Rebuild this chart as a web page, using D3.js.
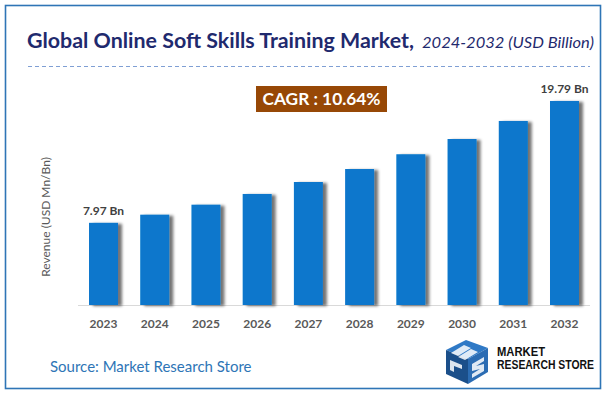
<!DOCTYPE html>
<html><head><meta charset="utf-8">
<script src="https://cdn.jsdelivr.net/npm/d3@7"></script>
<style>html,body{margin:0;padding:0;background:#fff}svg{display:block}</style>
</head><body>
<script>
const years = ["2023","2024","2025","2026","2027","2028","2029","2030","2031","2032"];
const values = [7.97, 8.76, 9.73, 10.77, 11.93, 13.19, 14.62, 16.10, 17.85, 19.79];
const valueLabels = {"2023":"7.97 Bn","2032":"19.79 Bn"};
const titleMain = "Global Online Soft Skills Training Market,";
const titleSub = "2024-2032 (USD Billion)";
const cagrText = "CAGR : 10.64%";
const yAxisTitle = "Revenue (USD Mn/Bn)";
const sourceText = "Source: Market Research Store";

const W = 613, H = 393;
const svg = d3.select("body").append("svg").attr("width", W).attr("height", H);
const defs = svg.append("defs");
const f = defs.append("filter").attr("id","sh").attr("x","-20%").attr("y","-10%").attr("width","160%").attr("height","120%");
f.append("feGaussianBlur").attr("in","SourceAlpha").attr("stdDeviation",1.8).attr("result","b");
f.append("feOffset").attr("in","b").attr("dx",3.5).attr("dy",1).attr("result","o");
f.append("feComponentTransfer").attr("in","o").attr("result","o2").append("feFuncA").attr("type","linear").attr("slope",0.55);
const m = f.append("feMerge"); m.append("feMergeNode").attr("in","o2"); m.append("feMergeNode").attr("in","SourceGraphic");

svg.append("rect").attr("x",5.5).attr("y",5.5).attr("width",595).attr("height",383)
  .attr("fill","#fff").attr("stroke","#2e75b6").attr("stroke-width",1.6);

const font = "Lato, 'Open Sans', sans-serif";
// Title
const t1 = svg.append("text").attr("x",27).attr("y",48).attr("font-family",font).attr("font-weight","bold")
  .attr("font-size",20.5).attr("fill","#1f2a6e").text(titleMain)
  .attr("textLength",387).attr("lengthAdjust","spacingAndGlyphs");
svg.append("text").attr("x",422).attr("y",48).attr("font-family",font).attr("font-style","italic")
  .attr("font-size",15.5).attr("fill","#1f2a6e").text(titleSub)
  .attr("textLength",172).attr("lengthAdjust","spacingAndGlyphs");
svg.append("line").attr("x1",28).attr("x2",590).attr("y1",66.5).attr("y2",66.5)
  .attr("stroke","#7f9fd4").attr("stroke-width",1).attr("stroke-dasharray","4,3");

// CAGR
svg.append("rect").attr("x",256).attr("y",86).attr("width",131).attr("height",26).attr("fill","#974806");
svg.append("text").attr("x",321.5).attr("y",105).attr("text-anchor","middle").attr("font-family",font)
  .attr("font-weight","bold").attr("font-size",17).attr("fill","#fff").text(cagrText)
  .attr("textLength",118).attr("lengthAdjust","spacingAndGlyphs");

const x = d3.scaleBand().domain(years).range([77.9, 590.1]).paddingInner(0.434).paddingOuter(0.217);
const y = d3.scaleLinear().domain([0, 20]).range([305, 98.8]);

svg.append("line").attr("x1",78).attr("x2",590).attr("y1",305.5).attr("y2",305.5).attr("stroke","#d9d9d9").attr("stroke-width",1.2);

svg.append("g").selectAll("rect").data(years).join("rect")
  .attr("x", d => x(d)).attr("width", x.bandwidth())
  .attr("y", (d,i) => y(values[i])).attr("height", (d,i) => y(0) - y(values[i]))
  .attr("fill","#0877cc").attr("filter","url(#sh)");

svg.append("g").selectAll("text").data(years.filter(d => valueLabels[d])).join("text")
  .attr("x", d => x(d) + x.bandwidth()/2).attr("y", d => y(values[years.indexOf(d)]) - 8)
  .attr("text-anchor","middle").attr("font-family",font).attr("font-weight","bold")
  .attr("font-size",12).attr("fill","#404040").text(d => valueLabels[d]);

const xAxis = svg.append("g").attr("transform","translate(0,305)")
  .call(d3.axisBottom(x).tickSize(0).tickPadding(14));
xAxis.select(".domain").remove();
xAxis.selectAll("text").attr("font-family",font).attr("font-weight","bold").attr("font-size",12).attr("fill","#595959");

svg.append("text").attr("transform","translate(50,217) rotate(-90)").attr("text-anchor","middle")
  .attr("font-family",font).attr("font-size",12).attr("fill","#595959").text(yAxisTitle);

svg.append("text").attr("x",50).attr("y",372).attr("font-family",font).attr("font-size",15)
  .attr("fill","#2e75b6").text(sourceText);

// Logo
const lg = svg.append("g").attr("transform","translate(444,338)");
lg.append("path").attr("d","M2,12 L22,2 L44,10 L24,21 Z").attr("fill","#2f79c6");
lg.append("path").attr("d","M2,12 L24,21 L24,46 L2,36 Z").attr("fill","#1b4f8a");
lg.append("path").attr("d","M24,21 L44,10 L44,34 L24,46 Z").attr("fill","#2b6cb3");
lg.append("path").attr("d","M7,15 L20,7 L27,10 L14,18 Z M14,19 L27,11 L34,14 L21,22 Z").attr("fill","#fff").attr("opacity",0.85);
lg.append("path").attr("d","M6,22 L18,27 L18,31 L10,28 L10,34 L6,32 Z").attr("fill","#fff").attr("opacity",0.85);
lg.append("path").attr("d","M28,26 L40,19 L40,23 L32,28 L40,26 L40,33 L28,40 L28,36 L36,31 L28,33 Z").attr("fill","#fff").attr("opacity",0.85);
svg.append("text").attr("x",497).attr("y",356).attr("font-family","'Liberation Sans', Arial, sans-serif")
  .attr("font-weight","bold").attr("font-size",12).attr("fill","#111").text("MARKET")
  .attr("textLength",48).attr("lengthAdjust","spacingAndGlyphs");
svg.append("text").attr("x",497).attr("y",369).attr("font-family","'Liberation Sans', Arial, sans-serif")
  .attr("font-weight","bold").attr("font-size",12).attr("fill","#111").text("RESEARCH STORE")
  .attr("textLength",97).attr("lengthAdjust","spacingAndGlyphs");
</script>
</body></html>
